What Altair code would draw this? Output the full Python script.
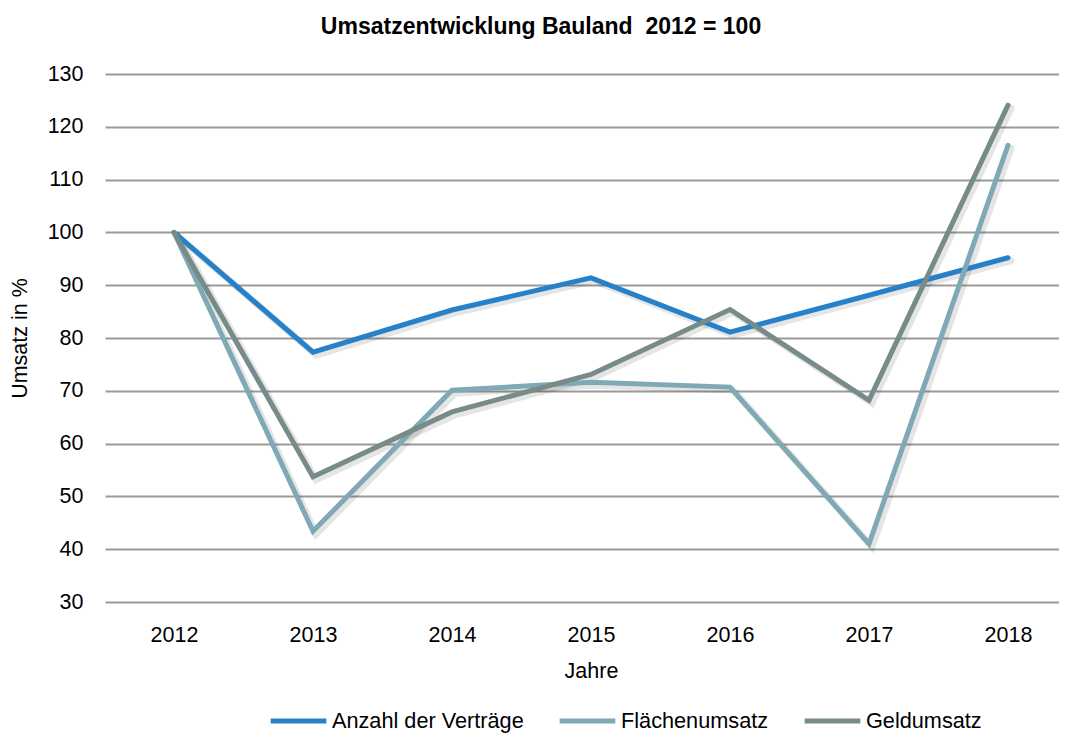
import altair as alt
import pandas as pd

years = [2012, 2013, 2014, 2015, 2016, 2017, 2018]
anzahl = [100, 77.3, 85.3, 91.4, 81.1, 88.1, 95.2]
flaechen = [100, 43.4, 70.1, 71.6, 70.7, 41.0, 116.5]
geld = [100, 53.7, 66.0, 73.1, 85.4, 68.2, 124.1]
series = ["Anzahl der Verträge", "Flächenumsatz", "Geldumsatz"]
colors = ["#2781C9", "#7FA9B4", "#778B8A"]
y_ticks = [30, 40, 50, 60, 70, 80, 90, 100, 110, 120, 130]

rows = []
for name, vals in zip(series, [anzahl, flaechen, geld]):
    for yr, v in zip(years, vals):
        rows.append({"Jahr": yr, "Wert": v, "Reihe": name, "order": series.index(name)})
df = pd.DataFrame(rows)

FONT = "Liberation Sans"

x_scale = alt.Scale(domain=[2011.5036, 2018.367], nice=False, zero=False)
y_scale = alt.Scale(domain=[30, 130], nice=False, zero=False)

x_axis = alt.Axis(
    values=years,
    format="d",
    grid=False,
    ticks=False,
    domain=False,
    labelFontSize=21.5,
    labelFont=FONT,
    labelColor="#000000",
    labelPadding=22,
    title="Jahre",
    titleFont=FONT,
    titleFontSize=21.5,
    titleFontWeight="normal",
    titleColor="#000000",
    titlePadding=15,
    titleX=486,
)
y_axis = alt.Axis(
    values=y_ticks,
    grid=True,
    gridColor="#9A9A9A",
    gridWidth=2,
    ticks=False,
    domain=False,
    labelFontSize=21.5,
    labelFont=FONT,
    labelColor="#000000",
    labelPadding=22,
    title="Umsatz in %",
    titleFont=FONT,
    titleFontSize=21.5,
    titleFontWeight="normal",
    titleColor="#000000",
    titlePadding=16,
)

base = alt.Chart(df)

shadow = base.transform_calculate(
    xs="datum.Jahr + 0.022", ys="datum.Wert - 0.55"
).mark_line(
    color="#000000", opacity=0.10, strokeWidth=7, strokeCap="round", strokeJoin="miter"
).encode(
    x=alt.X("xs:Q", scale=x_scale, axis=x_axis),
    y=alt.Y("ys:Q", scale=y_scale, axis=y_axis),
    detail="Reihe:N",
)

lines = base.mark_line(strokeWidth=5, strokeCap="round", strokeJoin="miter").encode(
    x=alt.X("Jahr:Q", scale=x_scale, axis=x_axis),
    y=alt.Y("Wert:Q", scale=y_scale, axis=y_axis),
    color=alt.Color(
        "Reihe:N",
        scale=alt.Scale(domain=series, range=colors),
        sort=series,
        legend=alt.Legend(
            title=None,
            orient="none",
            direction="horizontal",
            legendX=163,
            legendY=616,
            symbolType="stroke",
            symbolSize=3100,
            symbolStrokeWidth=5,
            labelFont=FONT,
            labelFontSize=21.7,
            labelColor="#000000",
            labelOffset=3,
            labelLimit=0,
            columnPadding=25,
        ),
    ),
    order="order:Q",
)

chart = (
    alt.layer(shadow, lines)
    .properties(
        width=954,
        height=528,
        autosize=alt.AutoSizeParams(type="none"),
        padding={"left": 97, "top": 66, "right": 0, "bottom": 131},
        title=alt.Title(
            "Umsatzentwicklung Bauland\u00a0\u00a02012 = 100",
            font=FONT,
            fontSize=23,
            fontWeight="bold",
            color="#000000",
            anchor="middle",
            dx=-41,
            offset=24,
        ),
    )
    .configure_view(stroke=None)
)

chart.save("out.html", embed_options={"renderer": "svg", "actions": False})
